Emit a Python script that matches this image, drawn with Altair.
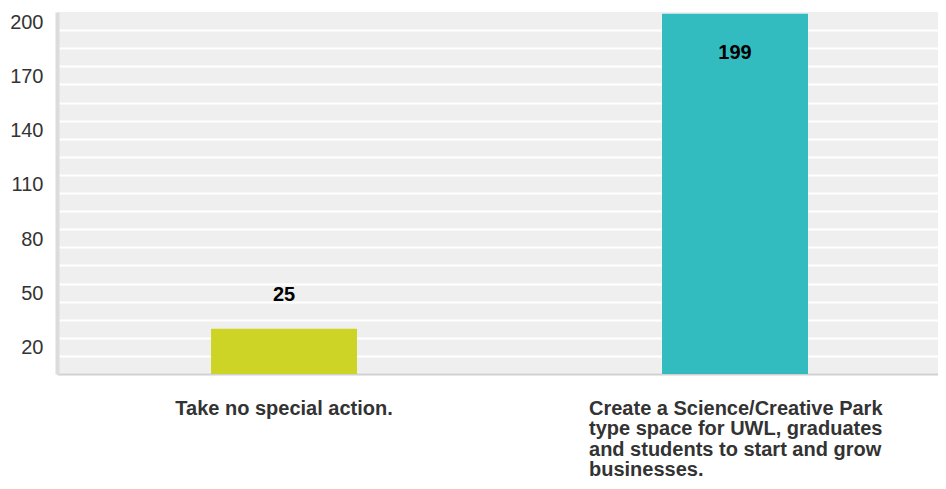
import altair as alt
import pandas as pd

categories = [
    "Take no special action.",
    "Create a Science/Creative Park\ntype space for UWL, graduates\nand students to start and grow\nbusinesses.",
]
values = [25, 199]
bar_colors = ["#CED426", "#33BCBF"]
y_grid_values = list(range(0, 201, 10))
y_label_values = [20, 50, 80, 110, 140, 170, 200]

df = pd.DataFrame({"category": categories, "value": values, "color": bar_colors})

FONT = "Liberation Sans"
first_test = "indexof(datum.value, 'Take') >= 0"

x_enc = alt.X(
    "category:N",
    sort=categories,
    title=None,
    scale=alt.Scale(paddingInner=0.6763, paddingOuter=0.3149, align=0.5423),
    axis=alt.Axis(
        labelExpr="split(datum.label, '\\n')",
        labelAngle=0,
        labelFont=FONT,
        labelFontSize=20,
        labelFontWeight="bold",
        labelColor="#333333",
        labelLineHeight=20.5,
        labelPadding=24,
        labelBaseline="top",
        labelLimit=1000,
        labelOverlap=False,
        ticks=False,
        tickSize=0,
        domainColor="#D0D0D0",
        domainWidth=2,
        grid=False,
        labelAlign={"condition": {"test": first_test, "value": "center"}, "value": "left"},
        labelOffset={"condition": {"test": first_test, "value": 0}, "value": -146},
    ),
)

y_enc = alt.Y(
    "value:Q",
    title=None,
    scale=alt.Scale(domain=[0, 200], nice=False, zero=True),
    axis=alt.Axis(
        values=y_grid_values,
        labelExpr=f"indexof({y_label_values}, datum.value) >= 0 ? datum.label : ''",
        labelFont=FONT,
        labelFontSize=20,
        labelColor="#333333",
        labelBaseline="top",
        labelPadding=14,
        ticks=False,
        tickSize=0,
        domainColor="#DCDCDC",
        domainWidth=4,
        grid=True,
        gridColor="white",
        gridWidth=2,
        gridOpacity={"condition": {"test": "datum.value >= 200", "value": 0}, "value": 1},
    ),
)

base = alt.Chart(df)

bars = base.mark_bar().encode(
    x=x_enc,
    y=y_enc,
    color=alt.Color("color:N", scale=None, legend=None),
)

lbl_out = base.transform_filter("datum.value < 100").mark_text(
    dy=-28, fontSize=20, fontWeight="bold", font=FONT, color="black", baseline="alphabetic"
).encode(x=x_enc, y=y_enc, text="value:Q")

lbl_in = base.transform_filter("datum.value >= 100").mark_text(
    dy=45, fontSize=20, fontWeight="bold", font=FONT, color="black", baseline="alphabetic"
).encode(x=x_enc, y=y_enc, text="value:Q")

chart = (
    alt.layer(bars, lbl_out, lbl_in)
    .properties(
        width=881,
        height=362,
        background="white",
        autosize=alt.AutoSizeParams(type="none"),
        padding={"left": 49, "top": 4, "right": 0, "bottom": 107},
    )
    .configure_view(fill="#EFEFEF", strokeWidth=0, stroke="transparent")
)

chart.save("out.html", embed_options={"renderer": "svg", "actions": False})
